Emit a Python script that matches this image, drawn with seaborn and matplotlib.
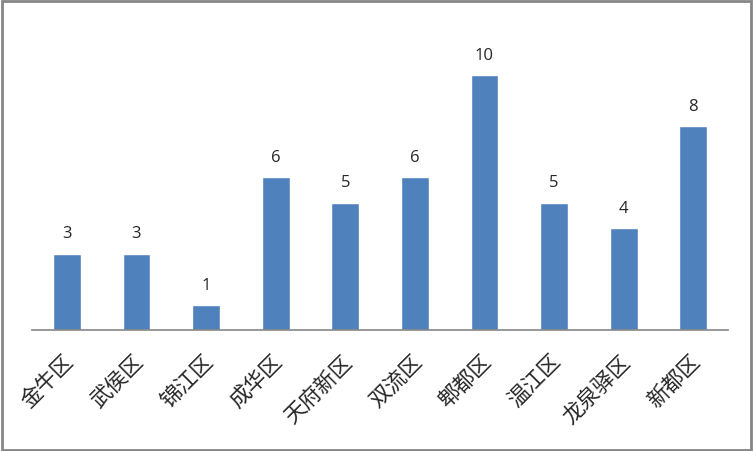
import seaborn as sns
import pandas as pd
import matplotlib.pyplot as plt
from matplotlib.patches import Rectangle
from matplotlib.transforms import ScaledTranslation

districts = ["金牛区", "武侯区", "锦江区", "成华区", "天府新区",
             "双流区", "郫都区", "温江区", "龙泉驿区", "新都区"]
counts = [3, 3, 1, 6, 5, 6, 10, 5, 4, 8]

df = pd.DataFrame({"district": districts, "count": counts})

sns.set_theme(style="white")
plt.rcParams["font.family"] = ["Noto Sans CJK SC", "DejaVu Sans"]

fig = plt.figure(figsize=(7.53, 4.51), dpi=100)
ax = fig.add_axes([0.0425, 0.268, 0.9245, 0.679])

sns.barplot(data=df, x="district", y="count", color="#4F81BD",
            saturation=1, width=0.4, ax=ax)

# value labels above bars
for bar, v in zip(ax.patches, counts):
    ax.annotate(str(v), (bar.get_x() + bar.get_width() / 2, bar.get_height()),
                xytext=(0, 8), textcoords="offset points",
                ha="center", va="bottom", fontsize=12,
                family=["Open Sans", "DejaVu Sans"])

ax.set_ylim(0, 12)
ax.set_xlim(-0.5, len(districts) - 0.5)
ax.set_xlabel("")
ax.set_ylabel("")
ax.set_yticks([])
ax.tick_params(axis="x", length=0, pad=13)
shift = ScaledTranslation(-4 / 100, -3 / 100, fig.dpi_scale_trans)
for lbl in ax.get_xticklabels():
    lbl.set_rotation(45)
    lbl.set_ha("right")
    lbl.set_va("top")
    lbl.set_rotation_mode("anchor")
    lbl.set_fontsize(15.5)
    lbl.set_transform(lbl.get_transform() + shift)

for s in ["top", "right", "left"]:
    ax.spines[s].set_visible(False)
ax.spines["bottom"].set_color("#868686")
ax.spines["bottom"].set_linewidth(1.2)

# gray frame around the whole chart
fig.patches.append(Rectangle((0.002, 0.003), 0.996, 0.994, transform=fig.transFigure,
                             fill=False, edgecolor="#868686", linewidth=2))

fig.savefig("out.png", dpi=100)
